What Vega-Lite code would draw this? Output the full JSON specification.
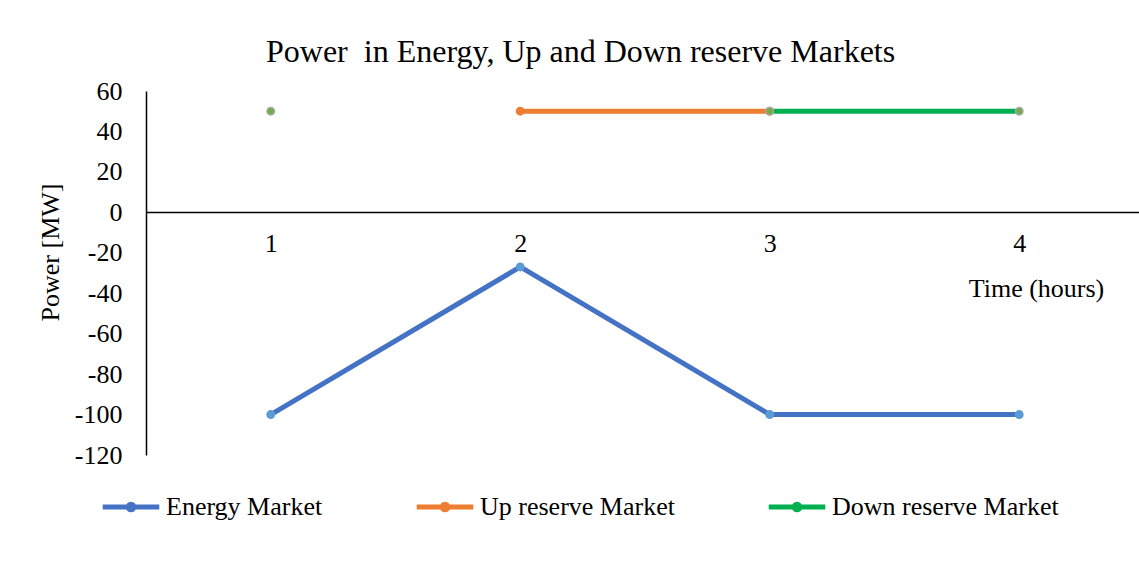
{
  "$schema": "https://vega.github.io/schema/vega-lite/v6.json",
  "autosize": {"type": "none"},
  "width": 993,
  "height": 364,
  "padding": {"left": 146, "top": 91, "right": 0, "bottom": 106},
  "background": "white",
  "config": {
    "view": {"stroke": null},
    "font": "Liberation Serif"
  },
  "title": {
    "text": "Power\u00a0 in Energy, Up and Down reserve Markets",
    "font": "Liberation Serif",
    "fontSize": 32,
    "fontWeight": "normal",
    "color": "#000000",
    "anchor": "start",
    "frame": "group",
    "dx": 120,
    "baseline": "alphabetic",
    "offset": 30,
    "dy": 46
  },
  "data": {
    "values": [
      {"hour": 1, "power": -100, "series": "Energy Market", "seg": "E"},
      {"hour": 2, "power": -27, "series": "Energy Market", "seg": "E"},
      {"hour": 3, "power": -100, "series": "Energy Market", "seg": "E"},
      {"hour": 4, "power": -100, "series": "Energy Market", "seg": "E"},
      {"hour": 2, "power": 50, "series": "Up reserve Market", "seg": "U"},
      {"hour": 3, "power": 50, "series": "Up reserve Market", "seg": "U"},
      {"hour": 1, "power": 50, "series": "Down reserve Market", "seg": "D1"},
      {"hour": 3, "power": 50, "series": "Down reserve Market", "seg": "D2"},
      {"hour": 4, "power": 50, "series": "Down reserve Market", "seg": "D2"}
    ]
  },
  "encoding": {
    "x": {
      "field": "hour",
      "type": "quantitative",
      "scale": {"domain": [0.5, 4.48], "nice": false, "zero": false},
      "axis": {
        "values": [1, 2, 3, 4],
        "format": "d",
        "offset": -243,
        "grid": false,
        "ticks": false,
        "domainColor": "#000000",
        "domainWidth": 1.5,
        "labelFont": "Liberation Serif",
        "labelFontSize": 26,
        "labelColor": "#000000",
        "labelBaseline": "top",
        "labelPadding": 18,
        "title": "Time (hours)",
        "titleFont": "Liberation Serif",
        "titleFontSize": 26,
        "titleFontWeight": "normal",
        "titleColor": "#000000",
        "titleX": 890,
        "titleY": 76,
        "titleAlign": "center",
        "titleBaseline": "middle"
      }
    },
    "y": {
      "field": "power",
      "type": "quantitative",
      "scale": {"domain": [-120, 60], "nice": false},
      "axis": {
        "values": [-120, -100, -80, -60, -40, -20, 0, 20, 40, 60],
        "labelExpr": "replace(datum.label, '\u2212', '-')",
        "grid": false,
        "ticks": false,
        "domainColor": "#000000",
        "domainWidth": 1.5,
        "labelFont": "Liberation Serif",
        "labelFontSize": 26,
        "labelColor": "#000000",
        "labelPadding": 24,
        "title": "Power [MW]",
        "titleFont": "Liberation Serif",
        "titleFontSize": 26,
        "titleFontWeight": "normal",
        "titleColor": "#000000",
        "titleX": -96,
        "titleY": 161,
        "titleAlign": "center",
        "titleBaseline": "middle",
        "titleAngle": -90
      }
    }
  },
  "layer": [
    {
      "mark": {"type": "line", "strokeWidth": 5, "strokeCap": "round", "strokeJoin": "round"},
      "encoding": {
        "detail": {"field": "seg"},
        "color": {
          "field": "series",
          "type": "nominal",
          "scale": {
            "domain": ["Energy Market", "Up reserve Market", "Down reserve Market"],
            "range": ["#4472C4", "#ED7D31", "#00B050"]
          },
          "legend": {
            "title": null,
            "orient": "none",
            "legendX": -46,
            "legendY": 385,
            "direction": "horizontal",
            "symbolType": "M-1,0L1,0M0.1,0A0.1,0.1 0 1,1 -0.1,0A0.1,0.1 0 1,1 0.1,0Z",
            "symbolSize": 3200,
            "symbolStrokeWidth": 5,
            "labelFont": "Liberation Serif",
            "labelFontSize": 26,
            "labelColor": "#000000",
            "labelOffset": 4,
            "columnPadding": 83,
            "labelLimit": 400
          }
        }
      }
    },
    {
      "mark": {"type": "point", "filled": true, "size": 55, "strokeWidth": 1.5, "opacity": 1},
      "encoding": {
        "fill": {
          "field": "series",
          "type": "nominal",
          "scale": {
            "domain": ["Energy Market", "Up reserve Market", "Down reserve Market"],
            "range": ["#5B9BD5", "#ED7D31", "#70AD47"]
          },
          "legend": null
        },
        "stroke": {
          "field": "series",
          "type": "nominal",
          "scale": {
            "domain": ["Energy Market", "Up reserve Market", "Down reserve Market"],
            "range": ["#5B9BD5", "#ED7D31", "#A5A5A5"]
          },
          "legend": null
        }
      }
    }
  ]
}
